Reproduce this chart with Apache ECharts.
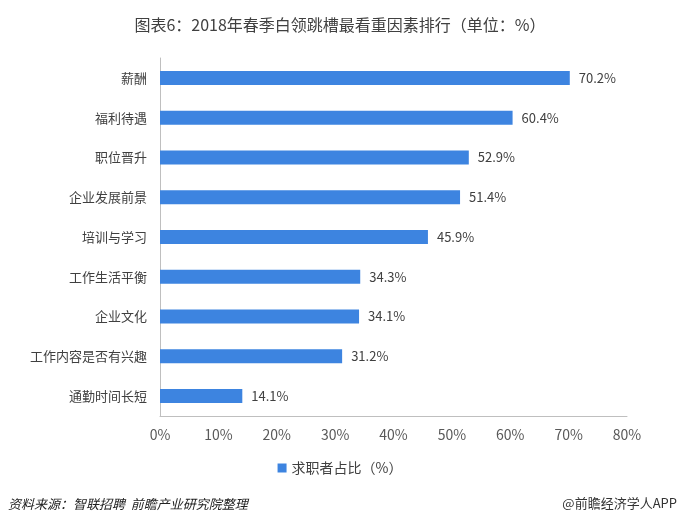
<!DOCTYPE html>
<html lang="zh">
<head>
<meta charset="UTF-8">
<style>
  html, body { margin: 0; padding: 0; background: #fff; }
  #chart { width: 680px; height: 524px; }
</style>
<script src="https://cdn.jsdelivr.net/npm/echarts@6/dist/echarts.min.js"></script>
</head>
<body>
<div id="chart"></div>
<script>
// categories from bottom to top (category axis on y runs upward)
const factors = ['通勤时间长短', '工作内容是否有兴趣', '企业文化', '工作生活平衡', '培训与学习', '企业发展前景', '职位晋升', '福利待遇', '薪酬'];
const shares = [14.1, 31.2, 34.1, 34.3, 45.9, 51.4, 52.9, 60.4, 70.2];
const seriesName = '求职者占比（%）';

const font = '"Microsoft YaHei", "Noto Sans CJK SC", sans-serif';
const chart = echarts.init(document.getElementById('chart'));

chart.setOption({
  backgroundColor: '#fff',
  textStyle: { fontFamily: font },
  title: {
    text: '图表6：2018年春季白领跳槽最看重因素排行（单位：%）',
    left: 'center',
    top: 12,
    textStyle: { fontSize: 16, fontWeight: 'normal', color: '#404040', fontFamily: font }
  },
  legend: {
    data: [seriesName],
    top: 456,
    left: 'center',
    itemWidth: 9,
    itemHeight: 9,
    itemGap: 4,
    icon: 'rect',
    textStyle: { fontSize: 14, color: '#404040' }
  },
  grid: { left: 160, right: 53, top: 58, bottom: 108 },
  xAxis: {
    type: 'value',
    min: 0,
    max: 80,
    interval: 10,
    axisLine: { show: true, lineStyle: { color: '#bfbfbf' } },
    axisTick: { show: false },
    splitLine: { show: false },
    axisLabel: { formatter: '{value}%', fontSize: 14, color: '#595959', margin: 12 }
  },
  yAxis: {
    type: 'category',
    data: factors,
    axisLine: { show: true, lineStyle: { color: '#bfbfbf' } },
    axisTick: { show: false },
    axisLabel: { fontSize: 13, color: '#404040', margin: 13 }
  },
  series: [{
    name: seriesName,
    type: 'bar',
    data: shares,
    barWidth: 14,
    itemStyle: { color: '#3d84e0' },
    label: {
      show: true,
      position: 'right',
      distance: 9,
      formatter: p => p.value.toFixed(1) + '%',
      fontSize: 13,
      color: '#404040'
    }
  }],
  graphic: [
    {
      type: 'text',
      left: 8,
      top: 498,
      style: {
        text: '资料来源：智联招聘  前瞻产业研究院整理',
        font: 'italic 13px ' + font,
        fill: '#222'
      }
    },
    {
      type: 'text',
      right: 3,
      top: 497,
      style: {
        text: '@前瞻经济学人APP',
        font: '13px ' + font,
        fill: '#333'
      }
    }
  ]
});
</script>
</body>
</html>
